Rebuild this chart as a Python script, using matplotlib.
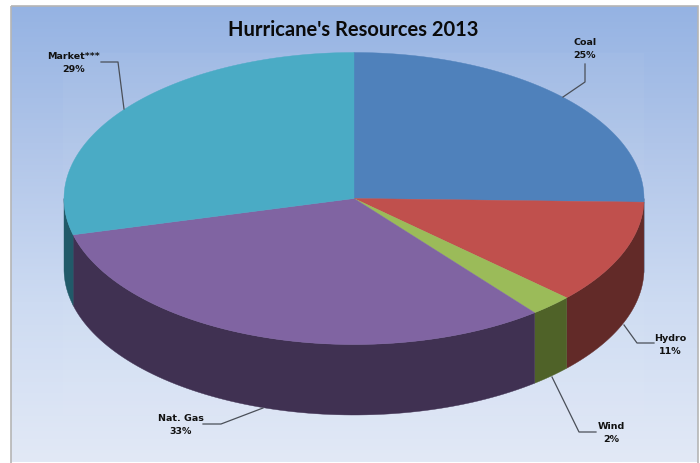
"""
Hurricane's Resources 2013 - 3D looking pie chart drawn by hand.
"""

import numpy as np
import matplotlib
matplotlib.use('Agg')
import matplotlib.pyplot as plt
from matplotlib.colors import LinearSegmentedColormap
from matplotlib.patches import Polygon, Rectangle

# Data
categories = ['Coal', 'Hydro', 'Wind', 'Nat. Gas', 'Market***']
percent_labels = [25, 11, 2, 33, 29]
# slice sizes as they are actually drawn in the picture (percent)
drawn_shares = [25.4, 11.5, 2.4, 31.7, 29.0]

top_colors = ['#4f81bb', '#c0504d', '#9bbb59', '#8064a2', '#4aabc5']
wall_colors = ['#2c4d75', '#622a28', '#4f6228', '#403152', '#215a69']

# Pie geometry (pixels)
CX, CY = 354, 199.5
RX, RY = 290, 146
DEPTH = 70.5


def ellipse_xy(angles_deg):
    a = np.radians(angles_deg)
    return CX + RX * np.cos(a), CY - RY * np.sin(a)


fig = plt.figure(figsize=(7, 4.64), dpi=100, facecolor='white')
ax = fig.add_axes([0, 0, 1, 1])
ax.set_xlim(0, 700)
ax.set_ylim(464, 0)
ax.axis('off')

# Background gradient
bg = LinearSegmentedColormap.from_list('bg', [(0, '#95b3e3'), (0.3, '#b0c5e9'),
                                              (0.65, '#cddbf2'), (1, '#e2e9f6')])
grad = np.linspace(0, 1, 256).reshape(-1, 1)
ax.imshow(grad, cmap=bg, extent=(11, 698, 463, 7), aspect='auto', zorder=0)
ax.set_xlim(0, 700)
ax.set_ylim(464, 0)
ax.add_patch(Rectangle((63, 54), 581, 362, facecolor='white', alpha=0.035,
                       edgecolor='none', zorder=1))
ax.add_patch(Rectangle((10.5, 7), 687.5, 460, facecolor='none', edgecolor='#b5b5b5',
                       linewidth=1.2, zorder=1))

# Slice angles, clockwise from 12 o'clock
edges = 90 - 3.6 * np.concatenate([[0], np.cumsum(drawn_shares)])

# Outer walls (only the front half of the ellipse, 180 to 360 degrees)
for i in range(len(categories)):
    a_start, a_end = edges[i + 1] % 360, edges[i] % 360
    if a_end <= a_start:
        a_end += 360
    lo = max(a_start, 180)
    hi = min(a_end, 360)
    if hi <= lo:
        continue
    ang = np.linspace(lo, hi, 80)
    x, y = ellipse_xy(ang)
    pts = np.r_[np.c_[x, y], np.c_[x[::-1], y[::-1] + DEPTH]]
    ax.add_patch(Polygon(pts, closed=True, facecolor=wall_colors[i],
                         edgecolor=wall_colors[i], linewidth=0.3, zorder=2))

# Top face
for i in range(len(categories)):
    ang = np.linspace(edges[i + 1], edges[i], 120)
    x, y = ellipse_xy(ang)
    pts = np.r_[[[CX, CY]], np.c_[x, y]]
    ax.add_patch(Polygon(pts, closed=True, facecolor=top_colors[i],
                         edgecolor=top_colors[i], linewidth=0.3, zorder=3))

# Labels and leader lines
label_pos = [(585, 49), (670, 345), (611, 433), (181, 425), (74, 63)]
leaders = [
    ([585, 585, 563], [65, 83, 98]),
    ([654, 637, 624], [344, 344, 326]),
    ([596, 579, 552], [433, 433, 378]),
    ([203, 221, 263], [425, 425, 409]),
    ([101, 118, 124], [63, 63, 110]),
]
font = dict(family='DejaVu Sans', fontsize=6.8, fontweight='bold', color='#111111',
            ha='center', va='center', linespacing=1.6, zorder=5)
for name, pct, (lx, ly), (line_x, line_y) in zip(categories, percent_labels, label_pos, leaders):
    ax.text(lx, ly, f'{name}\n{pct}%', **font)
    ax.plot(line_x, line_y, color='#4a4f58', linewidth=0.9, zorder=4)

ax.text(353, 30, "Hurricane's Resources 2013", family='Lato', fontsize=14.5,
        fontweight='bold', color='#0a0a0a', ha='center', va='center', zorder=5)

fig.savefig('out.png', dpi=100)
